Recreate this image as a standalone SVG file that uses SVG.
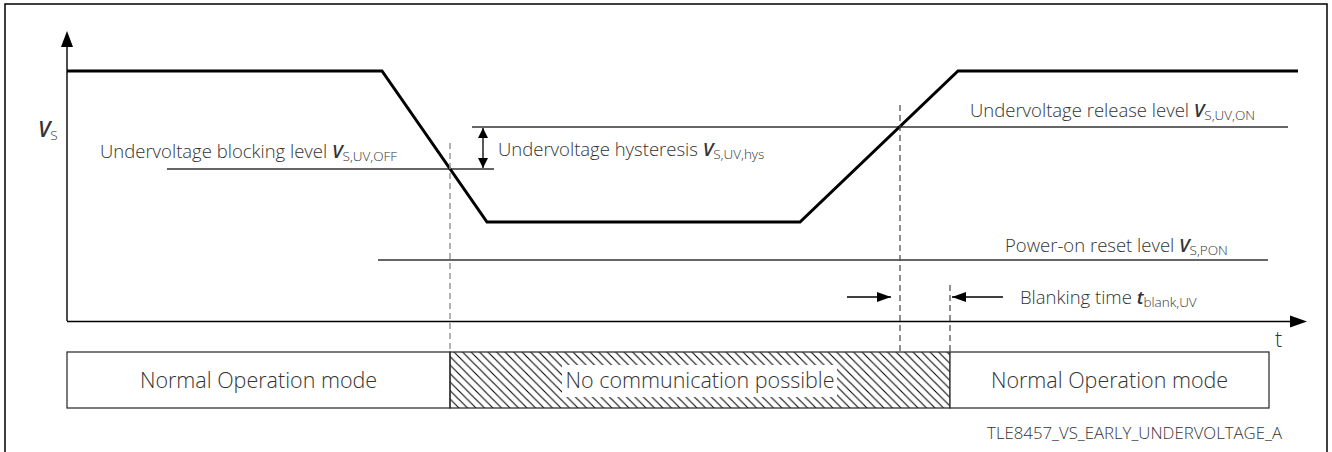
<svg xmlns="http://www.w3.org/2000/svg" width="1332" height="452" viewBox="0 0 1332 452">
<style>
.lbl{font-family:"Open Sans","Liberation Sans",sans-serif;font-weight:300;font-size:18.5px;fill:#333}
.big{font-family:"Open Sans","Liberation Sans",sans-serif;font-weight:300;font-size:21.5px;fill:#333}
.foot{font-family:"Open Sans","Liberation Sans",sans-serif;font-weight:300;font-size:16.8px;fill:#333}
.v{font-style:italic;font-weight:600}
.sub{font-size:13.5px}
.sig{fill:none;stroke:#000;stroke-width:3;stroke-linejoin:miter}
.lvl{stroke:#333;stroke-width:1.4}
.axis{stroke:#000;stroke-width:1.4}
.dashg{stroke:#999;stroke-width:1.5;stroke-dasharray:6,4}
.dashd{stroke:#444;stroke-width:1.2;stroke-dasharray:6,4}
.box{fill:#fff;stroke:#333;stroke-width:1.3}
</style>
<defs>
<pattern id="hatch" patternUnits="userSpaceOnUse" width="8.5" height="8.5">
<path d="M0,0 L8.5,8.5 M-4,4.5 L4,12.5 M4.5,-4 L12.5,4" stroke="#000" stroke-width="1.05"/>
</pattern>
<marker id="ah" viewBox="0 0 10 10" refX="10" refY="5" markerWidth="10" markerHeight="10" markerUnits="userSpaceOnUse" orient="auto-start-reverse">
<path d="M0,0 L10,5 L0,10 z" fill="#000"/>
</marker>
<marker id="ahb" viewBox="0 0 14 10" refX="14" refY="5" markerWidth="14" markerHeight="10" markerUnits="userSpaceOnUse" orient="auto">
<path d="M0,0 L14,5 L0,10 z" fill="#000"/>
</marker>
</defs>
<rect x="5" y="4" width="1322" height="470" fill="#fff" stroke="#000" stroke-width="1.5"/>
<g id="axes">
<line class="axis" x1="67" y1="321" x2="67" y2="46"/>
<path d="M67,31 L61,47 L73,47 z" fill="#000"/>
<line class="axis" x1="67" y1="321.5" x2="1292" y2="321.5"/>
<path d="M1307,321.5 L1290,315.5 L1290,327.5 z" fill="#000"/>
<text class="big" x="38" y="137"><tspan class="v">V</tspan><tspan class="sub" dy="3">S</tspan></text>
<text class="big" x="1275" y="347">t</text>
</g>
<g id="levels">
<line class="lvl" x1="167" y1="169" x2="494" y2="169"/>
<line class="lvl" x1="472" y1="127" x2="1288" y2="127"/>
<line class="lvl" x1="378" y1="260" x2="1268" y2="260"/>
</g>
<g id="signal">
<polyline class="sig" points="67,71 382,71 487,222 800,222 958,71 1298,71"/>
</g>
<g id="connectors">
<line class="dashg" x1="450" y1="143" x2="450" y2="352"/>
<line class="dashd" x1="900" y1="105" x2="900" y2="352"/>
<line class="dashd" x1="950" y1="285" x2="950" y2="352"/>
<line stroke="#000" stroke-width="1.3" x1="483" y1="128" x2="483" y2="168" marker-start="url(#ah)" marker-end="url(#ah)"/>
<line stroke="#000" stroke-width="1.3" x1="847" y1="297" x2="891" y2="297" marker-end="url(#ahb)"/>
<line stroke="#000" stroke-width="1.3" x1="1003" y1="297" x2="952" y2="297" marker-end="url(#ahb)"/>
</g>
<g id="labels">
<text class="lbl" x="100" y="158">Undervoltage blocking level <tspan class="v">V</tspan><tspan class="sub" dy="3">S,UV,OFF</tspan></text>
<text class="lbl" x="498" y="156">Undervoltage hysteresis <tspan class="v">V</tspan><tspan class="sub" dy="3">S,UV,hys</tspan></text>
<text class="lbl" x="970" y="117">Undervoltage release level <tspan class="v">V</tspan><tspan class="sub" dy="3">S,UV,ON</tspan></text>
<text class="lbl" x="1005" y="252">Power-on reset level <tspan class="v">V</tspan><tspan class="sub" dy="3">S,PON</tspan></text>
<text class="lbl" x="1020" y="304">Blanking time <tspan class="v">t</tspan><tspan class="sub" dy="3">blank,UV</tspan></text>
</g>
<g id="mode-normal-1">
<rect class="box" x="67" y="352" width="383" height="56"/>
<text class="big" x="258.5" y="388" text-anchor="middle">Normal Operation mode</text>
</g>
<g id="mode-nocomm">
<rect x="450" y="352" width="500" height="56" fill="url(#hatch)" stroke="#333" stroke-width="1.3"/>
<rect x="562" y="365" width="275" height="32" fill="#fff"/>
<text class="big" x="700" y="388" text-anchor="middle">No communication possible</text>
</g>
<g id="mode-normal-2">
<rect class="box" x="950" y="352" width="319" height="56"/>
<text class="big" x="1109.5" y="388" text-anchor="middle">Normal Operation mode</text>
</g>
<text class="foot" x="1282" y="439" text-anchor="end">TLE8457_VS_EARLY_UNDERVOLTAGE_A</text>
</svg>
